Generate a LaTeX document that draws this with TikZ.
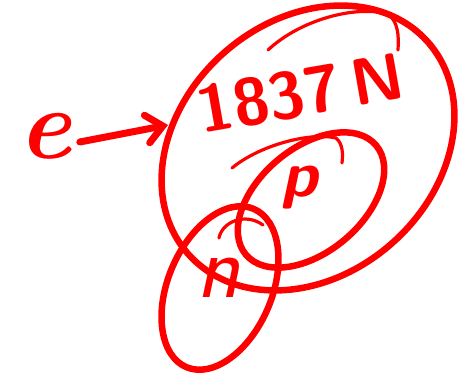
\documentclass[tikz,border=0pt]{standalone}
\usepackage{tikz}
\usetikzlibrary{arrows.meta}
\definecolor{inkred}{RGB}{255,0,0}

\begin{document}
\begin{tikzpicture}[x=1pt, y=1pt, every node/.style={text=inkred, inner sep=0pt}, ink/.style={draw=inkred, line width=6.5pt, line cap=round}, pen/.style={draw=inkred, line width=3.2pt, line cap=round}, >={Straight Barb[length=16pt, width=28pt, line cap=round]}]
	\useasboundingbox (0,0) rectangle (461,390);
	\draw[ink, rotate around={41.5:(308,242)}] (308,242) ellipse [x radius=160, y radius=127];
	\draw[ink, rotate around={40:(311,190)}] (311,190) ellipse [x radius=85, y radius=52];
	\draw[ink, rotate around={67:(220,102)}] (220,102) ellipse [x radius=86, y radius=52];
	% second pen strokes
	\draw[pen] (268,340) .. controls (300,370) and (355,385) .. (388,376) .. controls (398,368) and (399,355) .. (398,340);
	\draw[pen] (232,222) .. controls (260,245) and (310,258) .. (336,252) .. controls (343,246) and (343,236) .. (342,227);
	\draw[pen] (219,152) .. controls (222,168) and (245,178) .. (263,165);
	\node[font=\fontsize{100}{100}\selectfont\bfseries\itshape] (e) at (45,254) {e};
	\node[rotate=10, font=\fontsize{66}{66}\selectfont\sffamily\bfseries] (mass) at (300,297) {1837\,N};
	\node[anchor=base, font=\fontsize{65}{65}\selectfont\sffamily\bfseries\slshape] (p) at (300,193) {p};
	\node[font=\fontsize{90}{90}\selectfont\sffamily\slshape] (n) at (218,112) {n};
	\coordinate (rim) at (168,265);
	\draw[ink, line width=7pt, ->] ([xshift=8pt, yshift=-6pt]e.east) -- (rim);
\end{tikzpicture}
\end{document}
